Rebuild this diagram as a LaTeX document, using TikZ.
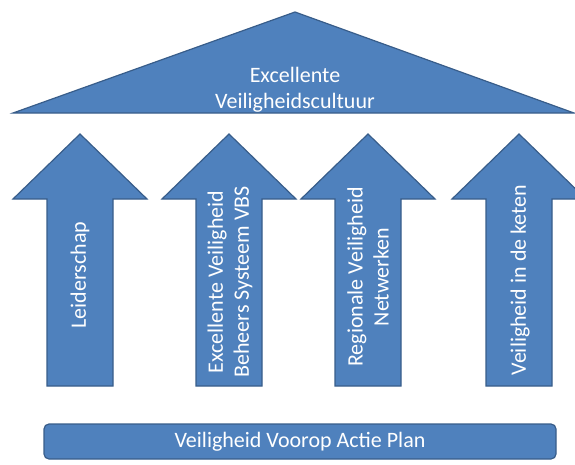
\documentclass[tikz,border=0pt]{standalone}
\usepackage{fontspec}
\setmainfont{Carlito}
\definecolor{fillblue}{HTML}{4F81BD}
\definecolor{edgeblue}{HTML}{385D8A}
\tikzset{
  blueshape/.style={fill=fillblue,draw=edgeblue,line width=1.2pt,line join=miter},
  lbl/.style={text=white,font=\fontsize{22}{26}\selectfont,align=center,inner sep=0pt},
  pics/uparr/.style={code={
    \draw[blueshape] (-33,386) -- (-33,199) -- (-67,199) -- (0,134) -- (67,199) -- (33,199) -- (33,386) -- cycle;}}
}
\begin{document}
\begin{tikzpicture}[x=1pt,y=-1pt]
\useasboundingbox (0,0) rectangle (575,464);
\clip (0,0) rectangle (575,464);
% roof
\draw[blueshape] (13,113) -- (295,12) -- (574,113) -- cycle;
\node[lbl] (roof) at (295,90) {Excellente\\Veiligheidscultuur};
% arrows
\pic at (80,0) {uparr};
\pic at (229,0) {uparr};
\pic at (368,0) {uparr};
\pic at (519,0) {uparr};
\node[lbl,rotate=90] (t1) at (80,275) {Leiderschap};
\node[lbl,rotate=90] (t2) at (230,282) {Excellente Veiligheid\\Beheers Systeem VBS};
\node[lbl,rotate=90] (t3) at (368,277) {Regionale Veiligheid\\Netwerken};
\node[lbl,rotate=90] (t4) at (520,280) {Veiligheid in de keten};
% base
\draw[blueshape,rounded corners=5pt] (44,424) rectangle (556,459);
\node[lbl] (base) at (300,442) {Veiligheid Voorop Actie Plan};
\end{tikzpicture}
\end{document}
